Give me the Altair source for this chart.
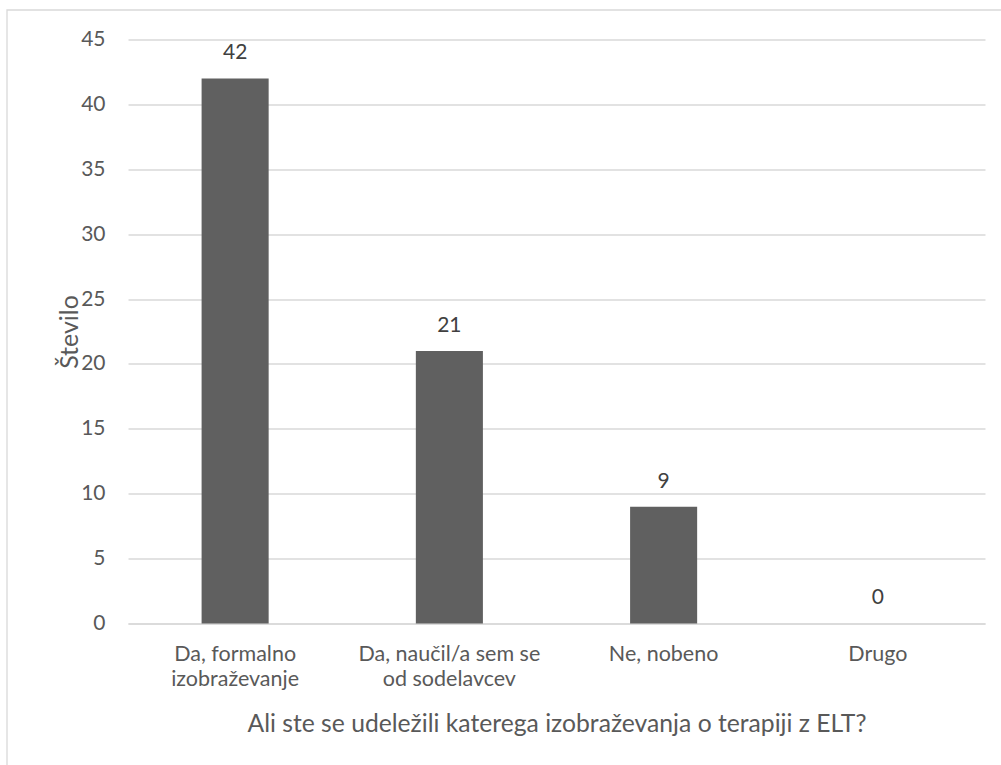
import altair as alt
import pandas as pd

# Survey answers (line breaks mark how each axis label wraps)
categories = [
    "Da, formalno\nizobraževanje",
    "Da, naučil/a sem se\nod sodelavcev",
    "Ne, nobeno",
    "Drugo",
]
counts = [42, 21, 9, 0]
y_ticks = [0, 5, 10, 15, 20, 25, 30, 35, 40, 45]

x_title = "Ali ste se udeležili katerega izobraževanja o terapiji z ELT?"
y_title = "Število"

FONT = "Lato"
GRID = "#d9d9d9"
TEXT = "#595959"
BAR = "#606060"

df = pd.DataFrame({"odgovor": categories, "stevilo": counts})

x_enc = alt.X(
    "odgovor:N",
    sort=categories,
    title=x_title,
    scale=alt.Scale(paddingInner=0.687, paddingOuter=0.3435),
    axis=alt.Axis(labelExpr="split(datum.label, '\\n')"),
)

y_enc = alt.Y(
    "stevilo:Q",
    title=y_title,
    scale=alt.Scale(domain=[0, 45], nice=False, zero=True),
    axis=alt.Axis(values=y_ticks),
)

bars = alt.Chart(df).mark_bar(color=BAR).encode(x=x_enc, y=y_enc)

labels = alt.Chart(df).mark_text(
    font=FONT, fontSize=21, color="#404040", dy=-19, baseline="alphabetic"
).encode(x=x_enc, y=y_enc, text="stevilo:Q")

# thin outer frame around the whole chart
frame = alt.Chart(alt.Data(values=[{}])).mark_rect(
    fillOpacity=0, stroke=GRID, strokeWidth=1.3
).encode(
    x=alt.value(-121), y=alt.value(-29.5), x2=alt.value(1200), y2=alt.value(1200)
)

chart = (
    alt.layer(frame, bars, labels)
    .properties(
        width=857,
        height=584,
        autosize=alt.AutoSizeParams(type="none"),
        padding={"left": 128, "top": 39.5, "right": 16, "bottom": 141.3},
        background="white",
    )
    .configure_view(stroke=None)
    .configure_axis(
        labelFont=FONT,
        labelColor=TEXT,
        titleFont=FONT,
        titleColor=TEXT,
        titleFontWeight="normal",
        ticks=False,
    )
    .configure_axisX(
        labelAngle=0,
        labelFontSize=21.5,
        labelLineHeight=25,
        labelPadding=20,
        labelLimit=400,
        domainColor=GRID,
        domainWidth=1.3,
        titleFontSize=24.7,
        titleY=108,
        titleBaseline="alphabetic",
    )
    .configure_axisY(
        grid=True,
        gridColor=GRID,
        gridWidth=1.3,
        domain=False,
        labelFontSize=21,
        labelPadding=23,
        titleFontSize=25,
        titleAngle=270,
        titleAlign="center",
        titleX=-51,
        titleY=292,
        titleBaseline="alphabetic",
    )
)

chart.save("out.html", embed_options={"renderer": "svg", "actions": False})
